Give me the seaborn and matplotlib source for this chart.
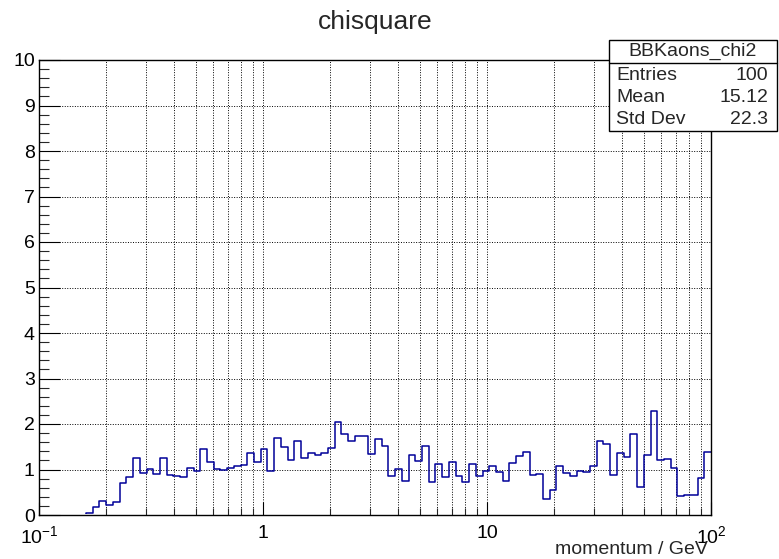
import numpy as np
import pandas as pd
import matplotlib
matplotlib.use("Agg")
import matplotlib.pyplot as plt
from matplotlib.ticker import LogLocator, AutoMinorLocator, FixedLocator, NullFormatter, FixedFormatter
from matplotlib.patches import Rectangle
from matplotlib.lines import Line2D
import seaborn as sns

# ---------------- data ----------------
chi2_values = [
    0, 0, 0, 0, 0, 0, 0, 0.05, 0.17, 0.31,
    0.22, 0.28, 0.70, 0.84, 1.25, 0.92, 1.02, 0.91, 1.25, 0.88,
    0.86, 0.84, 1.04, 0.97, 1.44, 1.16, 1.01, 0.99, 1.04, 1.07,
    1.10, 1.37, 1.16, 1.44, 0.97, 1.70, 1.49, 1.21, 1.63, 1.26,
    1.37, 1.32, 1.37, 1.47, 2.04, 1.77, 1.63, 1.74, 1.74, 1.34,
    1.66, 1.52, 0.86, 1.02, 0.75, 1.31, 1.19, 1.52, 0.73, 1.13,
    0.84, 1.16, 0.86, 0.73, 1.13, 0.86, 0.97, 1.07, 0.94, 0.75,
    1.15, 1.30, 1.38, 0.89, 0.91, 0.36, 0.54, 1.07, 0.92, 0.86,
    0.97, 0.95, 1.07, 1.63, 1.56, 0.89, 1.37, 1.28, 1.77, 0.62,
    1.32, 2.29, 1.21, 1.23, 1.04, 0.41, 0.45, 0.45, 0.81, 1.39,
]
n_bins = 100
log_lo, log_hi = -1.0, 2.0
x_tick_values = [0.1, 1, 10, 100]
x_tick_labels = [r"$10^{-1}$", "1", "10", r"$10^{2}$"]
y_tick_values = list(range(0, 11))
title_text = "chisquare"
x_label = "momentum / GeV"
stats_name = "BBKaons_chi2"
stats_rows = [("Entries", "100"), ("Mean", "15.12"), ("Std Dev", "22.3")]

# ---------------- style ----------------
sns.set_style("white")
plt.rcParams["font.family"] = ["Liberation Sans", "DejaVu Sans"]
plt.rcParams["mathtext.fontset"] = "custom"
plt.rcParams["mathtext.rm"] = "Liberation Sans"
plt.rcParams["mathtext.it"] = "Liberation Sans:italic"
plt.rcParams["mathtext.bf"] = "Liberation Sans:bold"

W, H = 779, 559
FS = 14
fig = plt.figure(figsize=(W / 100, H / 100), dpi=100)
fig.patch.set_facecolor("white")
ax = fig.add_axes([39 / W, 1 - 515 / H, 672 / W, 455 / H])

log_edges = np.linspace(log_lo, log_hi, n_bins + 1)
centers = 10 ** ((log_edges[:-1] + log_edges[1:]) / 2)
df = pd.DataFrame({"momentum": centers, "chi2": np.asarray(chi2_values, dtype=float)})

sns.histplot(data=df, x="momentum", weights="chi2", bins=n_bins,
             binrange=(log_lo, log_hi), log_scale=True,
             element="step", fill=False, color="#000099", linewidth=1.1, ax=ax)

# hide the empty-bin segment lying on the x axis (as ROOT does)
for ln in ax.lines:
    clip = Rectangle((0, 0.003), 1, 1.0, transform=ax.transAxes)
    ln.set_clip_path(clip)

ax.set_xlim(10 ** log_lo, 10 ** log_hi)
ax.set_ylim(0, 10)
ax.set_xlabel("")
ax.set_ylabel("")

# ticks
ax.xaxis.set_major_locator(FixedLocator(x_tick_values))
ax.xaxis.set_major_formatter(FixedFormatter(x_tick_labels))
ax.xaxis.set_minor_locator(LogLocator(base=10, subs=np.arange(2, 10), numticks=20))
ax.xaxis.set_minor_formatter(NullFormatter())
ax.yaxis.set_major_locator(FixedLocator(y_tick_values))
ax.yaxis.set_minor_locator(AutoMinorLocator(5))

ax.tick_params(axis="x", which="major", direction="in", length=9.5, width=0.8,
               labelsize=FS, pad=7.5, colors="black", bottom=True, top=False)
ax.tick_params(axis="x", which="minor", direction="in", length=5.2, width=0.8,
               bottom=True, top=False)
ax.tick_params(axis="y", which="major", direction="in", length=15, width=0.8,
               labelsize=FS, pad=3, colors="black", left=True, right=False)
ax.tick_params(axis="y", which="minor", direction="in", length=7.3, width=0.8,
               left=True, right=False)

for sp in ax.spines.values():
    sp.set_visible(True)
    sp.set_color("black")
    sp.set_linewidth(1.0)
    sp.set_zorder(10)

# grid
ax.grid(True, axis="x", which="both", color="black", linestyle=(0, (1, 1.6)), linewidth=0.7)
ax.grid(True, axis="y", which="major", color="black", linestyle=(0, (1, 1.6)), linewidth=0.7)
ax.grid(False, axis="y", which="minor")
ax.set_axisbelow(True)

# title and axis label
fig.text(375 / W, 1 - 29.5 / H, title_text, ha="center", va="baseline", fontsize=19)
fig.text(708 / W, 1 - 554 / H, x_label, ha="right", va="baseline", fontsize=FS)

# stats box
bx0, bx1, by0, by1, bsep = 609, 777, 40, 131, 63
fig.add_artist(Rectangle((bx0 / W, 1 - by1 / H), (bx1 - bx0) / W, (by1 - by0) / H,
                         transform=fig.transFigure, facecolor="white",
                         edgecolor="black", linewidth=1.0, zorder=5))
fig.add_artist(Line2D([bx0 / W, bx1 / W], [1 - bsep / H, 1 - bsep / H],
                      transform=fig.transFigure, color="black", linewidth=1.0, zorder=6))
fig.text((bx0 + bx1) / 2 / W, 1 - 51.5 / H, stats_name, ha="center", va="center",
         fontsize=FS, zorder=7)
row_y = [75.5, 98, 120]
for (lab, val), yy in zip(stats_rows, row_y):
    fig.text(616 / W, 1 - yy / H, lab, ha="left", va="center", fontsize=FS, zorder=7)
    fig.text(768 / W, 1 - yy / H, val, ha="right", va="center", fontsize=FS, zorder=7)

fig.savefig("out.png", dpi=100)
